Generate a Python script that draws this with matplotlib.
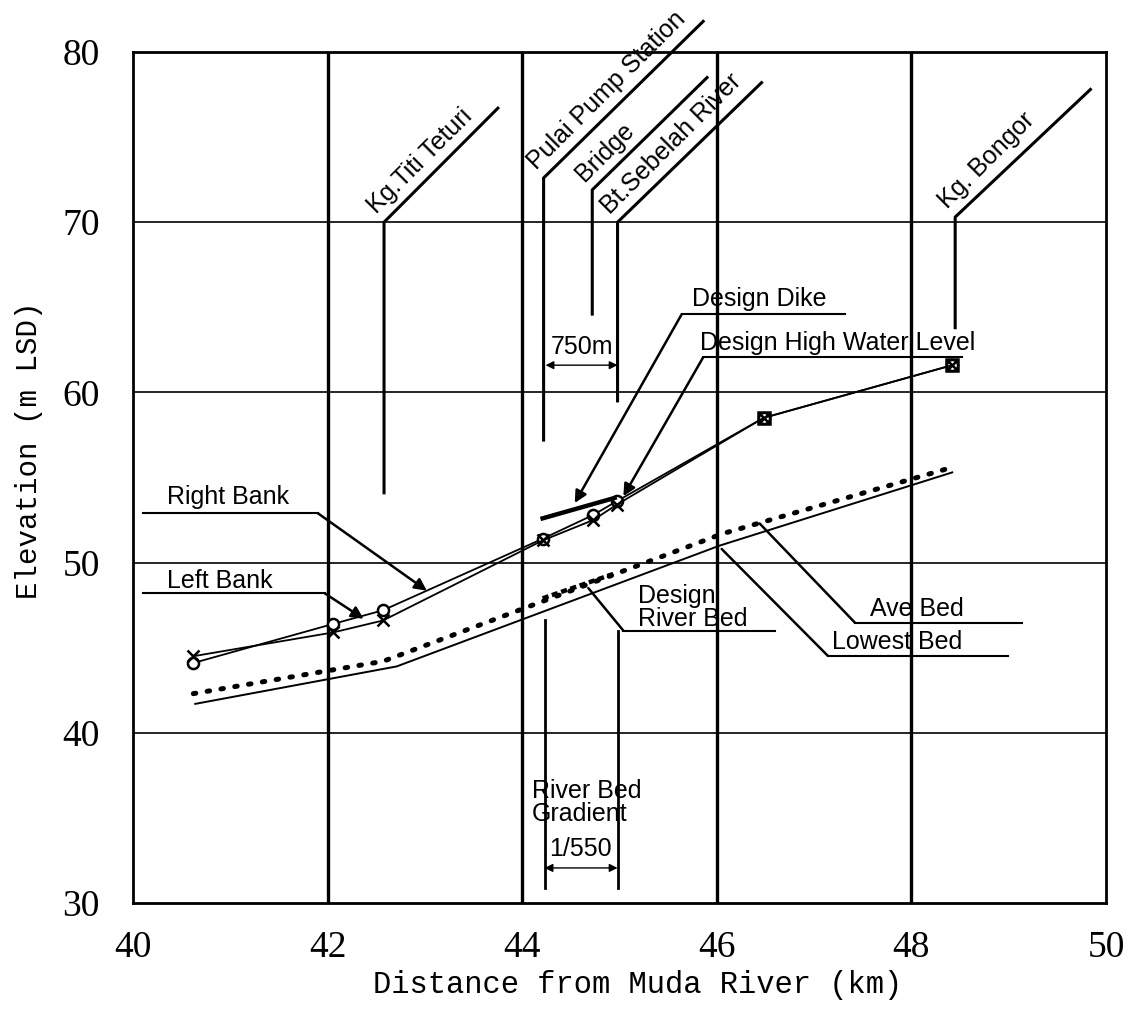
import matplotlib
matplotlib.use("Agg")
import matplotlib.pyplot as plt

# surveyed profile (distance km, elevation m LSD)
bank_x = [40.62, 42.06, 42.57, 44.21, 44.73, 44.97, 46.48, 48.42]
right_bank = [44.1, 46.4, 47.2, 51.4, 52.8, 53.6, 58.5, 61.6]
left_bank = [44.5, 45.9, 46.6, 51.3, 52.5, 53.4, 58.5, 61.6]

ave_bed_x = [40.62, 42.57, 46.06, 48.42]
ave_bed = [42.3, 44.2, 51.7, 55.6]

lowest_bed_x = [40.64, 42.71, 46.03, 48.42]
lowest_bed = [41.7, 43.9, 51.0, 55.3]

dike_x = [44.21, 44.95]
design_dike = [52.6, 53.8]

design_bed_x = [44.21, 44.97]
design_bed = [47.9, 49.4]

# stations: name, x, lower end, bend, diagonal end (x, y)
stations = [
    ("Kg.Titi Teturi", 42.58, 54.1, 70.0, 43.75, 76.7),
    ("Pulai Pump Station", 44.22, 57.2, 72.6, 45.86, 81.8),
    ("Bridge", 44.72, 64.6, 71.9, 45.90, 78.5),
    ("Bt.Sebelah River", 44.98, 59.5, 70.0, 46.46, 78.2),
    ("Kg. Bongor", 48.45, 63.8, 70.3, 49.84, 77.8),
]

SANS = "Liberation Sans"
MONO = "Liberation Mono"

fig = plt.figure(figsize=(11.34, 10.10), dpi=100)
ax = fig.add_axes([133 / 1134, 107 / 1010, 973 / 1134, 851 / 1010])
ax.set_xlim(40, 50)
ax.set_ylim(30, 80)
ax.set_xticks(range(40, 51, 2))
ax.set_yticks(range(30, 81, 10))
ax.tick_params(length=0, labelsize=27)
ax.tick_params(axis="x", pad=20)
ax.tick_params(axis="y", pad=24)
for lab in ax.get_xticklabels() + ax.get_yticklabels():
    lab.set_family("Liberation Serif")
for s in ax.spines.values():
    s.set_linewidth(2)

for x in [42, 44, 46, 48]:
    ax.axvline(x, color="k", lw=2.4, zorder=1)
for y in [40, 50, 60, 70]:
    ax.axhline(y, color="k", lw=1.2, zorder=1)

ax.set_xlabel("Distance from Muda River (km)", family=MONO, fontsize=22)
ax.set_ylabel("Elevation (m LSD)", family=MONO, fontsize=21)
ax.xaxis.set_label_coords(0.519, -0.096)
ax.xaxis.label.set_va("center")
ax.yaxis.set_label_coords(-0.107, 0.532)
ax.yaxis.label.set_va("center")

# profile lines
ax.plot(bank_x, right_bank, color="k", lw=1.3, marker="o", ms=8,
        mfc="white", mec="k", mew=1.8, zorder=4)
ax.plot(bank_x, left_bank, color="k", lw=1.3, marker="x", ms=9, mew=1.8, zorder=4)
ax.plot(bank_x[-2:], right_bank[-2:], ls="none", marker="s", ms=8,
        mfc="none", mec="k", mew=1.8, zorder=5)
ax.plot(ave_bed_x, ave_bed, color="k", lw=3.6, ls=(0, (0.5, 2.3)),
        dash_capstyle="round", zorder=3)
ax.plot(lowest_bed_x, lowest_bed, color="k", lw=1.4, zorder=3)
ax.plot(dike_x, design_dike, color="k", lw=3.2, zorder=4)
ax.plot(design_bed_x, design_bed, color="k", lw=3.2, ls=(0, (1.4, 0.8)), zorder=4)

# station leaders
for name, x, ylo, yb, xe, ye in stations:
    ax.plot([x, x, xe], [ylo, yb, ye], color="k", lw=2.2, clip_on=False, zorder=2)
    ax.annotate(name, xy=(x, yb), xytext=(-5.5, 5.5), textcoords="offset points",
                rotation=45, rotation_mode="anchor", ha="left", va="baseline",
                family=SANS, fontsize=18, annotation_clip=False)


def leader(text_xy, text, under, tip, head=True):
    (ux0, ux1, uy) = under
    ax.plot([ux1, ux0], [uy, uy], color="k", lw=1.5, zorder=3)
    style = "-|>" if head else "-"
    ax.annotate("", xy=tip, xytext=(ux0, uy),
                arrowprops=dict(arrowstyle=style, color="k", lw=1.8,
                                mutation_scale=18, shrinkA=0, shrinkB=0))
    ax.text(text_xy[0], text_xy[1], text, family=SANS, fontsize=18,
            ha="left", va="baseline")


leader((40.35, 53.47), "Right Bank", (41.9, 40.1, 52.9), (43.02, 48.35))
leader((40.35, 48.53), "Left Bank", (41.97, 40.1, 48.2), (42.37, 46.7))
leader((45.75, 65.05), "Design Dike", (45.64, 47.32, 64.6), (44.54, 53.5))
leader((45.83, 62.47), "Design High Water Level", (45.86, 48.52, 62.06), (45.04, 53.9))
leader((45.19, 47.6), "Design", (45.04, 46.6, 46.0), (44.68, 48.5), head=False)
ax.text(45.19, 46.3, "River Bed", family=SANS, fontsize=18, ha="left", va="baseline")
leader((47.57, 46.88), "Ave Bed", (47.42, 49.14, 46.47), (46.44, 52.3), head=False)
leader((47.18, 44.94), "Lowest Bed", (47.14, 48.99, 44.53), (46.05, 50.8), head=False)

# 750 m dimension
ax.annotate("", xy=(44.98, 61.6), xytext=(44.24, 61.6),
            arrowprops=dict(arrowstyle="<|-|>", color="k", lw=1.0,
                            mutation_scale=12, shrinkA=0, shrinkB=0))
ax.text(44.61, 62.65, "750m", family=SANS, fontsize=18, ha="center", va="center")

# river bed gradient
ax.plot([44.23, 44.23], [46.6, 30.9], color="k", lw=2.0, zorder=2)
ax.plot([44.98, 44.98], [46.0, 30.9], color="k", lw=2.0, zorder=2)
ax.annotate("", xy=(44.98, 32.06), xytext=(44.23, 32.06),
            arrowprops=dict(arrowstyle="<|-|>", color="k", lw=1.0,
                            mutation_scale=12, shrinkA=0, shrinkB=0))
ax.text(44.1, 36.18, "River Bed", family=SANS, fontsize=18, ha="left", va="baseline")
ax.text(44.1, 34.8, "Gradient", family=SANS, fontsize=18, ha="left", va="baseline")
ax.text(44.6, 32.76, "1/550", family=SANS, fontsize=18, ha="center", va="baseline")

fig.savefig("out.png", dpi=100)
